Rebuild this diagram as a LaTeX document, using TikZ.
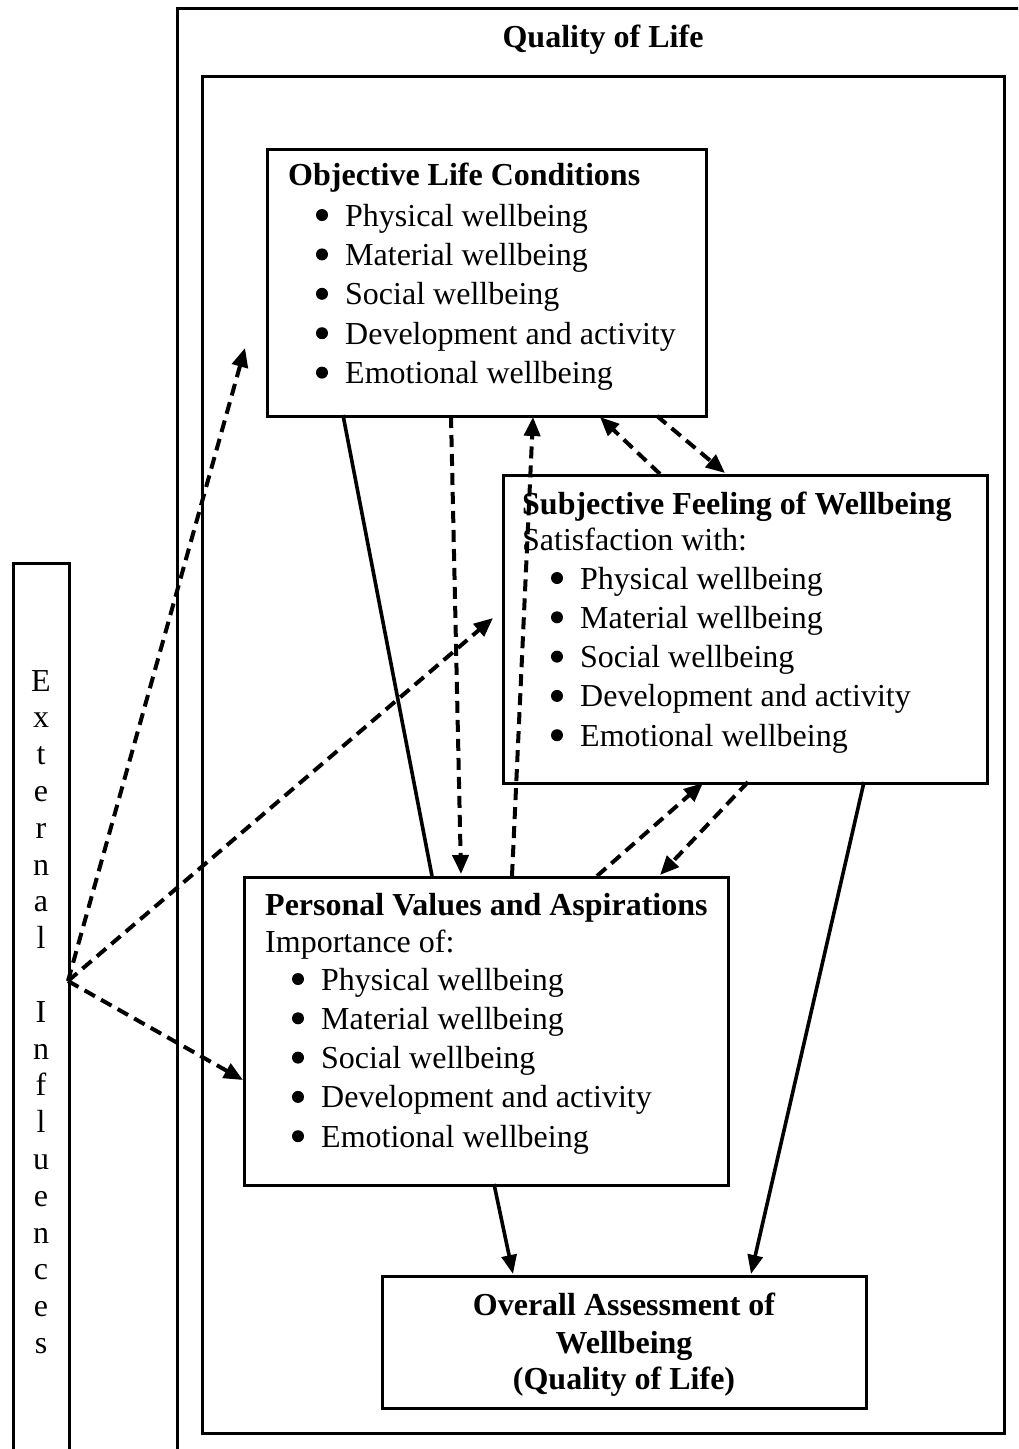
\documentclass[tikz,border=0pt]{standalone}
\usepackage{fontspec}
\setmainfont{Liberation Serif}
\usetikzlibrary{arrows.meta}
\begin{document}
\begin{tikzpicture}[x=1pt,y=-1pt,
  box/.style={draw, line width=2.6pt, rectangle, inner sep=0pt, anchor=north west},
  txt/.style={inner sep=0pt, anchor=base west, font=\fontsize{32}{38}\selectfont},
  btxt/.style={inner sep=0pt, anchor=base west, font=\fontsize{32}{38}\selectfont\bfseries},
  ctxt/.style={inner sep=0pt, anchor=base, font=\fontsize{32}{38}\selectfont\bfseries},
  bul/.style={circle, fill, inner sep=0pt, minimum size=12pt},
  dasharrow/.style={line width=4pt, dash pattern=on 12pt off 7pt, -{Triangle[length=19pt,width=16pt]}},
  solidarrow/.style={line width=3.6pt, -{Triangle[length=19pt,width=15pt]}},
  solidline/.style={line width=3.6pt}]
\clip (0,0) rectangle (1018,1449);
\fill[white] (0,0) rectangle (1018,1449);

% frames
\node[box, minimum width=1000pt, minimum height=1600pt] (qol) at (176,7) {};
\node[box, minimum width=56pt, minimum height=1000pt] (ext) at (12,562) {};
\node[box, minimum width=802pt, minimum height=1357pt] (inner) at (201,75) {};
\node[ctxt] (qoltitle) at (603,47) {Quality of Life};

% boxes
\node[box, minimum width=439pt, minimum height=267pt] (obj) at (266,148) {};
\node[box, minimum width=484pt, minimum height=308pt] (sub) at (502,474) {};
\node[box, minimum width=484pt, minimum height=308pt] (pva) at (243,876) {};
\node[box, minimum width=484pt, minimum height=132pt] (ovr) at (381,1275) {};

% Objective text
\node[btxt] (objtitle) at (288,185) {Objective Life Conditions};
\foreach \t [count=\k from 0] in {Physical wellbeing, Material wellbeing, Social wellbeing, Development and activity, Emotional wellbeing}{
  \node[bul] (objb\k) at (322,215+39.4*\k) {};
  \node[txt] (objt\k) at (345,226+39.4*\k) {\t};
}

% Subjective text
\node[btxt] (subtitle) at (522,514) {Subjective Feeling of Wellbeing};
\node[txt] (subsat) at (522,550) {Satisfaction with:};
\foreach \t [count=\k from 0] in {Physical wellbeing, Material wellbeing, Social wellbeing, Development and activity, Emotional wellbeing}{
  \node[bul] (subb\k) at (557,578+39.3*\k) {};
  \node[txt] (subt\k) at (580,589+39.3*\k) {\t};
}

% Personal text
\node[btxt] (pvatitle) at (265,915) {Personal Values and Aspirations};
\node[txt] (pvaimp) at (265,952) {Importance of:};
\foreach \t [count=\k from 0] in {Physical wellbeing, Material wellbeing, Social wellbeing, Development and activity, Emotional wellbeing}{
  \node[bul] (pvab\k) at (298,979+39.3*\k) {};
  \node[txt] (pvat\k) at (321,990+39.3*\k) {\t};
}

% Overall text
\node[ctxt] (ovr1) at (624,1315) {Overall Assessment of};
\node[ctxt] (ovr2) at (624,1353) {Wellbeing};
\node[ctxt] (ovr3) at (624,1389) {(Quality of Life)};

% External Influences letters
\foreach \c/\k in {E/0,x/1,t/2,e/3,r/4,n/5,a/6,l/7,I/9,n/10,f/11,l/12,u/13,e/14,n/15,c/16,e/17,s/18}{
  \node[inner sep=0pt, anchor=base, font=\fontsize{32}{38}\selectfont] (ext\k) at (41,691+36.8*\k) {\c};
}

% connector points
\coordinate (extp) at (68,981);
\coordinate (toobj) at (245,348);
\coordinate (tosub) at (493,618);
\coordinate (topva) at (243,1080);
\coordinate (o1) at (343,415);  \coordinate (p1) at (432,876);
\coordinate (o2) at (451,416);  \coordinate (p2) at (461,874);
\coordinate (p3) at (512,876);  \coordinate (o3) at (533,417);
\coordinate (s4) at (660,474);  \coordinate (o4) at (600,417);
\coordinate (o5) at (657,416);  \coordinate (s5) at (725,473);
\coordinate (p6) at (597,876);  \coordinate (s6) at (703,783);
\coordinate (s7) at (748,782);  \coordinate (p7) at (660,875);
\coordinate (p8) at (494,1184); \coordinate (v8) at (513,1274);
\coordinate (s9) at (864,782);  \coordinate (v9) at (751,1274);

% connectors
\draw[dasharrow] (extp) -- (toobj);
\draw[dasharrow] (extp) -- (tosub);
\draw[dasharrow] (extp) -- (topva);
\draw[solidline] (o1) -- (p1);
\draw[dasharrow] (o2) -- (p2);
\draw[dasharrow] (p3) -- (o3);
\draw[dasharrow] (s4) -- (o4);
\draw[dasharrow] (o5) -- (s5);
\draw[dasharrow] (p6) -- (s6);
\draw[dasharrow] (s7) -- (p7);
\draw[solidarrow] (p8) -- (v8);
\draw[solidarrow] (s9) -- (v9);
\end{tikzpicture}
\end{document}
